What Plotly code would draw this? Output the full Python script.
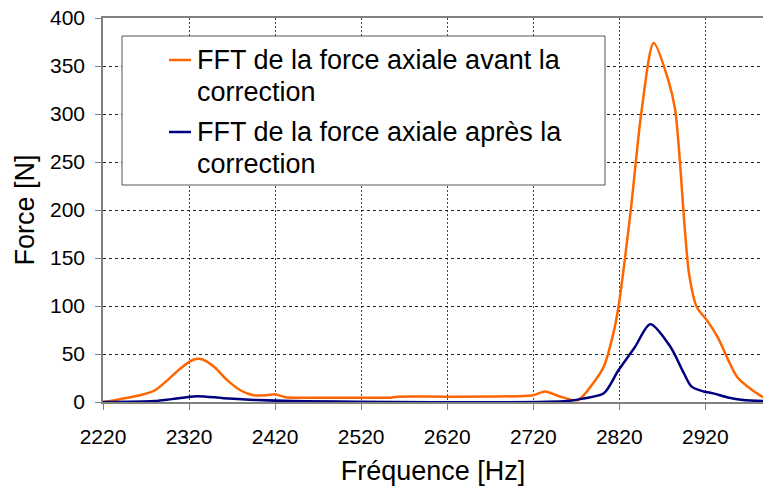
import plotly.graph_objects as go

# Frequency axis (Hz) and FFT amplitude of the axial force (N)
freq_before = [2220, 2240, 2263, 2280, 2294, 2310, 2325, 2335, 2350, 2364, 2380,
               2395, 2410, 2420, 2432, 2460, 2520, 2554, 2562, 2620, 2700, 2720,
               2734, 2750, 2772, 2790, 2802, 2813, 2819, 2833, 2846, 2860, 2877,
               2885, 2901, 2910, 2922, 2934, 2957, 2975, 2987]
force_before = [0, 3, 7, 12, 22, 35, 44, 44.5, 36, 23, 12,
                7, 7, 8, 5, 4.5, 4.5, 4.5, 5.5, 5.5, 6, 7,
                11, 6, 2, 20, 37, 71, 99, 197, 304, 374, 335,
                304, 134, 99, 85, 68, 26, 12, 5]

freq_after = [2220, 2280, 2300, 2329, 2360, 2400, 2440, 2760, 2780, 2802, 2819,
              2838, 2856, 2879, 2895, 2904, 2918, 2929, 2945, 2964, 2987]
force_after = [0, 1, 3, 6, 4, 2, 1, 1, 4, 9, 33,
               57, 81, 58, 30, 16, 11, 9, 5, 2, 1]

x_ticks = [2220, 2320, 2420, 2520, 2620, 2720, 2820, 2920]
y_ticks = [0, 50, 100, 150, 200, 250, 300, 350, 400]

name_before = ["FFT de la force axiale avant la", "correction"]
name_after = ["FFT de la force axiale après la", "correction"]

ORANGE = "#FF6600"
NAVY = "#000080"
FONT = "Liberation Sans"

W, H = 763, 495
L, R, T, B = 103, 0, 18, 93


def px(x):
    return (x - L) / (W - L - R)


def py(y):
    return (H - B - y) / (H - T - B)


fig = go.Figure()
fig.add_trace(go.Scatter(x=freq_before, y=force_before, mode="lines",
                         line=dict(color=ORANGE, width=2.5, shape="spline", smoothing=0.8),
                         showlegend=False, hoverinfo="x+y"))
fig.add_trace(go.Scatter(x=freq_after, y=force_after, mode="lines",
                         line=dict(color=NAVY, width=2.5, shape="spline", smoothing=0.8),
                         showlegend=False, hoverinfo="x+y"))

# Legend box drawn over the grid
shapes = [dict(type="rect", xref="paper", yref="paper",
               x0=px(122), x1=px(605), y0=py(185), y1=py(36),
               fillcolor="white", line=dict(color="#555555", width=1), layer="above")]
annotations = []
for color, lines, y_first in [(ORANGE, name_before, 60), (NAVY, name_after, 132)]:
    shapes.append(dict(type="line", xref="paper", yref="paper",
                       x0=px(169), x1=px(191), y0=py(y_first), y1=py(y_first),
                       line=dict(color=color, width=2.5), layer="above"))
    for i, txt in enumerate(lines):
        annotations.append(dict(text=txt, xref="paper", yref="paper",
                                x=px(195), y=py(y_first + 32 * i),
                                xanchor="left", yanchor="middle", showarrow=False,
                                font=dict(family=FONT, size=27, color="black")))

fig.update_layout(
    width=W, height=H,
    margin=dict(l=L, r=R, t=T, b=B, pad=0),
    paper_bgcolor="white", plot_bgcolor="white",
    font=dict(family=FONT, color="black"),
    shapes=shapes, annotations=annotations,
    xaxis=dict(range=[2220, 2987], tickvals=x_ticks, ticktext=[str(v) for v in x_ticks],
               showline=True, linecolor="#808080", linewidth=1.5, mirror=True,
               ticks="outside", ticklen=6, tickcolor="#808080", tickwidth=1,
               ticklabelstandoff=9,
               showgrid=True, gridcolor="#444444", gridwidth=1, griddash="2px,2px",
               zeroline=False, tickfont=dict(size=21, family=FONT),
               title=dict(text="Fréquence [Hz]", font=dict(size=27, family=FONT), standoff=14)),
    yaxis=dict(range=[0, 400], tickvals=y_ticks,
               showline=True, linecolor="#808080", linewidth=1.5,
               ticks="outside", ticklen=6, tickcolor="#808080", tickwidth=1,
               ticklabelstandoff=6,
               showgrid=True, gridcolor="#222222", gridwidth=1, griddash="3px,3px",
               zeroline=False, tickfont=dict(size=21, family=FONT),
               title=dict(text="Force [N]", font=dict(size=27, family=FONT), standoff=8)),
)

fig.write_html("out.html")
